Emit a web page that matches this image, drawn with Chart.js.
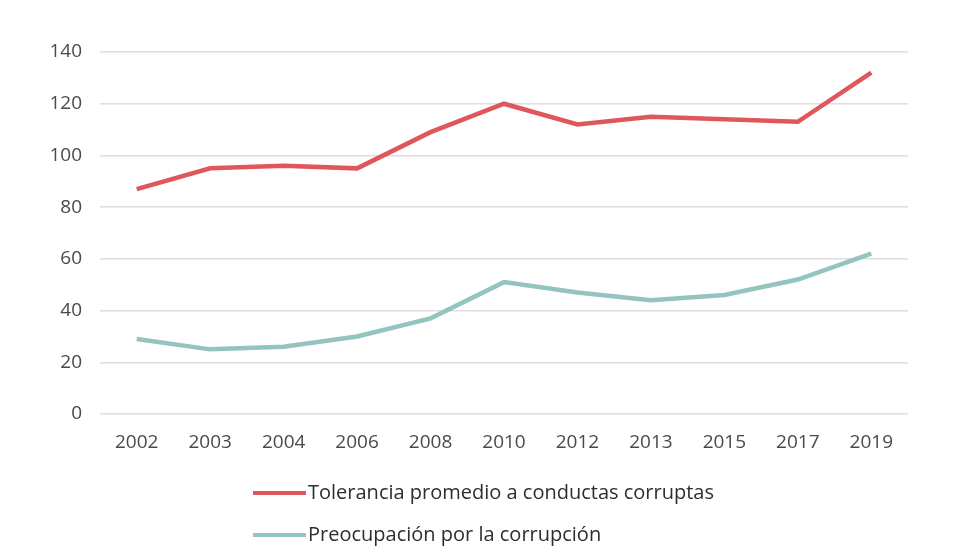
<!DOCTYPE html>
<html>
<head>
<meta charset="utf-8">
<script src="https://cdn.jsdelivr.net/npm/chart.js@4"></script>
<style>
  body { margin: 0; background: #fff; }
  #wrap { width: 966px; height: 546px; }
</style>
</head>
<body>
<div id="wrap"><canvas id="lineChart"></canvas></div>
<script>
// años
const years = ['2002', '2003', '2004', '2006', '2008', '2010', '2012', '2013', '2015', '2017', '2019'];
// series
const tolerancia = [87, 95, 96, 95, 109, 120, 112, 115, 114, 113, 132];
const preocupacion = [29, 25, 26, 30, 37, 51, 47, 44, 46, 52, 62];
const yTicks = [0, 20, 40, 60, 80, 100, 120, 140];

const font = '"Open Sans", "Noto Sans", sans-serif';

// leyenda en columna, debajo del gráfico
const legendList = {
    id: 'legendList',
    afterDraw(chart) {
        const ctx = chart.ctx;
        ctx.save();
        ctx.font = '20px ' + font;
        ctx.textBaseline = 'middle';
        chart.data.datasets.forEach((ds, i) => {
            const y = 493 + i * 42;
            ctx.strokeStyle = ds.borderColor;
            ctx.lineWidth = 4;
            ctx.beginPath();
            ctx.moveTo(253, y);
            ctx.lineTo(306, y);
            ctx.stroke();
            ctx.fillStyle = '#2e2e2e';
            ctx.fillText(ds.label, 308, y);
        });
        ctx.restore();
    }
};

const ctx = document.getElementById('lineChart').getContext('2d');
new Chart(ctx, {
    type: 'line',
    data: {
        labels: years,
        datasets: [{
            label: 'Tolerancia promedio a conductas corruptas',
            data: tolerancia,
            borderColor: '#e0575b',
            borderWidth: 4.5,
            pointRadius: 0,
            tension: 0
        }, {
            label: 'Preocupación por la corrupción',
            data: preocupacion,
            borderColor: '#93c4bd',
            borderWidth: 4.5,
            pointRadius: 0,
            tension: 0
        }]
    },
    options: {
        responsive: true,
        maintainAspectRatio: false,
        animation: false,
        layout: {
            padding: { top: 52, right: 58, left: 0, bottom: 0 }
        },
        plugins: {
            legend: { display: false },
            tooltip: { enabled: false }
        },
        scales: {
            x: {
                offset: true,
                grid: { display: false, drawTicks: false },
                border: { display: false },
                ticks: {
                    color: '#4a4a4a',
                    font: { family: font, size: 19 },
                    padding: 17,
                    maxRotation: 0
                },
                afterFit(scale) { scale.height = 132; }
            },
            y: {
                min: 0,
                max: 140,
                afterBuildTicks(scale) {
                    scale.ticks = yTicks.map(v => ({ value: v }));
                },
                grid: { color: '#dedede', lineWidth: 1.5, drawTicks: false },
                border: { display: false },
                ticks: {
                    color: '#4a4a4a',
                    font: { family: font, size: 19 },
                    padding: 18
                },
                afterFit(scale) { scale.width = 100; }
            }
        }
    },
    plugins: [legendList]
});
</script>
</body>
</html>
